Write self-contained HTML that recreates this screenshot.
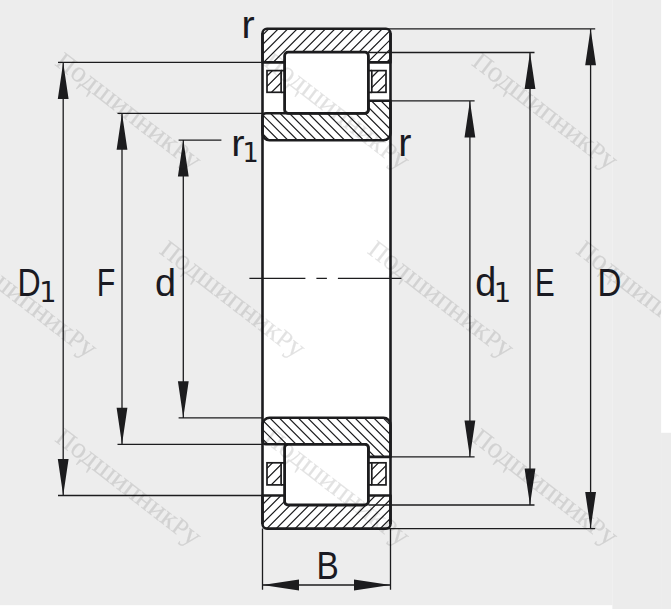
<!DOCTYPE html>
<html lang="ru">
<head>
<meta charset="utf-8">
<title>Подшипник</title>
<style>
html,body{margin:0;padding:0;background:#fff;}
body{width:671px;height:609px;overflow:hidden;font-family:"Liberation Sans",sans-serif;}
svg{display:block;}
</style>
</head>
<body>
<svg width="671" height="609" viewBox="0 0 671 609"><defs><clipPath id="cot"><path d="M262.5 62.4V33.3A4.5 4.5 0 0 1 267.0 28.8H386.0A4.5 4.5 0 0 1 390.5 33.3V62.4Z"/></clipPath><clipPath id="cit"><path d="M262.5 116.8A3.5 3.5 0 0 1 266.0 113.3H364.9A3.5 3.5 0 0 0 368.4 109.8V100.7H390.5V133.3A7 7 0 0 1 383.5 140.3H269.5A7 7 0 0 1 262.5 133.3Z"/></clipPath><clipPath id="cob"><path d="M262.5 495.5V524.1A4.5 4.5 0 0 0 267.0 528.6H386.0A4.5 4.5 0 0 0 390.5 524.1V495.5Z"/></clipPath><clipPath id="cib"><path d="M262.5 440.8A3.5 3.5 0 0 0 266.0 444.3H364.9A3.5 3.5 0 0 1 368.4 447.8V456.9H390.5V424.8A7 7 0 0 0 383.5 417.8H269.5A7 7 0 0 0 262.5 424.8Z"/></clipPath><clipPath id="cg267_70"><rect x="267.0" y="70.6" width="14.100000000000023" height="21.700000000000003"/></clipPath><clipPath id="cg371_70"><rect x="371.8" y="70.6" width="14.199999999999989" height="21.700000000000003"/></clipPath><clipPath id="cg267_462"><rect x="267.0" y="462.8" width="14.100000000000023" height="22.099999999999966"/></clipPath><clipPath id="cg371_462"><rect x="371.8" y="462.8" width="14.199999999999989" height="22.099999999999966"/></clipPath><clipPath id="cwm"><path d="M0 0H661.1V432.8H671V609H612.4V605.2H0Z"/></clipPath></defs>
<rect x="0" y="0" width="612.4" height="605.2" fill="#ededed"/>
<rect x="612.4" y="0" width="48.7" height="609" fill="#ececec"/>
<rect x="661.1" y="432.8" width="9.9" height="176.2" fill="#ececec"/>
<rect x="262.5" y="28.8" width="128.0" height="499.8" rx="4.5" fill="#fff"/>
<g clip-path="url(#cot)"><path d="M233.30 64.40L270.90 26.80M242.75 64.40L280.35 26.80M252.20 64.40L289.80 26.80M261.65 64.40L299.25 26.80M271.10 64.40L308.70 26.80M280.55 64.40L318.15 26.80M290.00 64.40L327.60 26.80M299.45 64.40L337.05 26.80M308.90 64.40L346.50 26.80M318.35 64.40L355.95 26.80M327.80 64.40L365.40 26.80M337.25 64.40L374.85 26.80M346.70 64.40L384.30 26.80M356.15 64.40L393.75 26.80M365.60 64.40L403.20 26.80M375.05 64.40L412.65 26.80M384.50 64.40L422.10 26.80" stroke="#1c1c1e" stroke-width="1.2" fill="none"/></g>
<path d="M262.5 62.4V33.3A4.5 4.5 0 0 1 267.0 28.8H386.0A4.5 4.5 0 0 1 390.5 33.3V62.4Z" fill="none" stroke="#1c1c1e" stroke-width="2.6" stroke-linejoin="round"/>
<g clip-path="url(#cit)"><path d="M227.55 98.70L271.15 142.30M237.00 98.70L280.60 142.30M246.45 98.70L290.05 142.30M255.90 98.70L299.50 142.30M265.35 98.70L308.95 142.30M274.80 98.70L318.40 142.30M284.25 98.70L327.85 142.30M293.70 98.70L337.30 142.30M303.15 98.70L346.75 142.30M312.60 98.70L356.20 142.30M322.05 98.70L365.65 142.30M331.50 98.70L375.10 142.30M340.95 98.70L384.55 142.30M350.40 98.70L394.00 142.30M359.85 98.70L403.45 142.30M369.30 98.70L412.90 142.30M378.75 98.70L422.35 142.30M388.20 98.70L431.80 142.30" stroke="#1c1c1e" stroke-width="1.2" fill="none"/></g>
<path d="M262.5 116.8A3.5 3.5 0 0 1 266.0 113.3H364.9A3.5 3.5 0 0 0 368.4 109.8V100.7H390.5V133.3A7 7 0 0 1 383.5 140.3H269.5A7 7 0 0 1 262.5 133.3Z" fill="none" stroke="#1c1c1e" stroke-width="2.6" stroke-linejoin="round"/>
<g clip-path="url(#cob)"><path d="M236.45 530.60L273.55 493.50M245.90 530.60L283.00 493.50M255.35 530.60L292.45 493.50M264.80 530.60L301.90 493.50M274.25 530.60L311.35 493.50M283.70 530.60L320.80 493.50M293.15 530.60L330.25 493.50M302.60 530.60L339.70 493.50M312.05 530.60L349.15 493.50M321.50 530.60L358.60 493.50M330.95 530.60L368.05 493.50M340.40 530.60L377.50 493.50M349.85 530.60L386.95 493.50M359.30 530.60L396.40 493.50M368.75 530.60L405.85 493.50M378.20 530.60L415.30 493.50M387.65 530.60L424.75 493.50" stroke="#1c1c1e" stroke-width="1.2" fill="none"/></g>
<path d="M262.5 495.5V524.1A4.5 4.5 0 0 0 267.0 528.6H386.0A4.5 4.5 0 0 0 390.5 524.1V495.5Z" fill="none" stroke="#1c1c1e" stroke-width="2.6" stroke-linejoin="round"/>
<g clip-path="url(#cib)"><path d="M229.90 415.80L273.00 458.90M239.35 415.80L282.45 458.90M248.80 415.80L291.90 458.90M258.25 415.80L301.35 458.90M267.70 415.80L310.80 458.90M277.15 415.80L320.25 458.90M286.60 415.80L329.70 458.90M296.05 415.80L339.15 458.90M305.50 415.80L348.60 458.90M314.95 415.80L358.05 458.90M324.40 415.80L367.50 458.90M333.85 415.80L376.95 458.90M343.30 415.80L386.40 458.90M352.75 415.80L395.85 458.90M362.20 415.80L405.30 458.90M371.65 415.80L414.75 458.90M381.10 415.80L424.20 458.90" stroke="#1c1c1e" stroke-width="1.2" fill="none"/></g>
<path d="M262.5 440.8A3.5 3.5 0 0 0 266.0 444.3H364.9A3.5 3.5 0 0 1 368.4 447.8V456.9H390.5V424.8A7 7 0 0 0 383.5 417.8H269.5A7 7 0 0 0 262.5 424.8Z" fill="none" stroke="#1c1c1e" stroke-width="2.6" stroke-linejoin="round"/>
<path d="M262.5 33.3V524.1M390.5 33.3V524.1" stroke="#1c1c1e" stroke-width="2.6" fill="none"/>
<rect x="284.6" y="52.2" width="83.79999999999995" height="61.099999999999994" rx="3.5" fill="#fff" stroke="#1c1c1e" stroke-width="2.8000000000000003"/>
<rect x="284.6" y="444.3" width="83.79999999999995" height="60.69999999999999" rx="3.5" fill="#fff" stroke="#1c1c1e" stroke-width="2.8000000000000003"/>
<g clip-path="url(#cg267_70)"><path d="M248.70 94.30L274.40 68.60M259.10 94.30L284.80 68.60M269.50 94.30L295.20 68.60" stroke="#1c1c1e" stroke-width="1.25" fill="none"/></g>
<rect x="267.0" y="70.6" width="14.100000000000023" height="21.700000000000003" fill="none" stroke="#1c1c1e" stroke-width="1.7"/>
<path d="M281.1 70.6H284.6M281.1 92.3H284.6" stroke="#1c1c1e" stroke-width="1.7"/>
<g clip-path="url(#cg371_70)"><path d="M354.70 94.30L380.40 68.60M365.10 94.30L390.80 68.60M375.50 94.30L401.20 68.60" stroke="#1c1c1e" stroke-width="1.25" fill="none"/></g>
<rect x="371.8" y="70.6" width="14.199999999999989" height="21.700000000000003" fill="none" stroke="#1c1c1e" stroke-width="1.7"/>
<path d="M371.8 70.6H368.4M371.8 92.3H368.4" stroke="#1c1c1e" stroke-width="1.7"/>
<g clip-path="url(#cg267_462)"><path d="M248.40 486.90L274.50 460.80M258.80 486.90L284.90 460.80M269.20 486.90L295.30 460.80" stroke="#1c1c1e" stroke-width="1.25" fill="none"/></g>
<rect x="267.0" y="462.8" width="14.100000000000023" height="22.099999999999966" fill="none" stroke="#1c1c1e" stroke-width="1.7"/>
<path d="M281.1 462.8H284.6M281.1 484.9H284.6" stroke="#1c1c1e" stroke-width="1.7"/>
<g clip-path="url(#cg371_462)"><path d="M354.40 486.90L380.50 460.80M364.80 486.90L390.90 460.80M375.20 486.90L401.30 460.80" stroke="#1c1c1e" stroke-width="1.25" fill="none"/></g>
<rect x="371.8" y="462.8" width="14.199999999999989" height="22.099999999999966" fill="none" stroke="#1c1c1e" stroke-width="1.7"/>
<path d="M371.8 462.8H368.4M371.8 484.9H368.4" stroke="#1c1c1e" stroke-width="1.7"/>
<path d="M249.4 278.4H305.4M316.4 278.4H326.9M337.9 278.4H401.4" stroke="#1c1c1e" stroke-width="1.3" fill="none"/>
<path d="M63.2 62.4V495.5M58 62.4H262.5M58 495.5H262.5" stroke="#1c1c1e" stroke-width="1.3" fill="none"/><path d="M63.2 62.4L57.800000000000004 98.9H68.60000000000001ZM63.2 495.5L57.800000000000004 459.0H68.60000000000001Z" fill="#1c1c1e"/>
<path d="M122.0 113.3V444.3M117.5 113.3H262.5M117.5 444.3H262.5" stroke="#1c1c1e" stroke-width="1.3" fill="none"/><path d="M122.0 113.3L116.6 149.8H127.4ZM122.0 444.3L116.6 407.8H127.4Z" fill="#1c1c1e"/>
<path d="M183.3 140.1V417.8M178.6 140.1H221.4M178.6 417.8H262.5" stroke="#1c1c1e" stroke-width="1.3" fill="none"/><path d="M183.3 140.1L177.9 176.6H188.70000000000002ZM183.3 417.8L177.9 381.3H188.70000000000002Z" fill="#1c1c1e"/>
<path d="M469.9 100.9V456.9M390.5 100.9H474.6M390.5 456.9H474.6" stroke="#1c1c1e" stroke-width="1.3" fill="none"/><path d="M469.9 100.9L464.5 137.4H475.29999999999995ZM469.9 456.9L464.5 420.4H475.29999999999995Z" fill="#1c1c1e"/>
<path d="M530.0 52.5V505.0M368.4 52.5H534.5M368.4 505.0H534.5" stroke="#1c1c1e" stroke-width="1.3" fill="none"/><path d="M530.0 52.5L524.6 89.0H535.4ZM530.0 505.0L524.6 468.5H535.4Z" fill="#1c1c1e"/>
<path d="M590.6 28.8V528.6M386.0 28.8H595.2M386.0 528.6H595.2" stroke="#1c1c1e" stroke-width="1.3" fill="none"/><path d="M590.6 28.8L585.2 65.3H596.0ZM590.6 528.6L585.2 492.1H596.0Z" fill="#1c1c1e"/>
<path d="M262.5 528.6V589.8M390.5 528.6V589.8M262.5 585.0H390.5" stroke="#1c1c1e" stroke-width="1.3" fill="none"/>
<path d="M262.5 585.0L299.0 579.6V590.4ZM390.5 585.0L354.0 579.6V590.4Z" fill="#1c1c1e"/>
<text transform="translate(17.43 295.80) scale(0.817 1)" font-family="'Liberation Sans', sans-serif" font-size="39.28" fill="#1a1a22">D</text>
<text transform="translate(39.22 301.90) scale(0.971 1)" font-family="'DejaVu Sans', sans-serif" font-size="27.95" fill="#1a1a22">1</text>
<text transform="translate(96.87 295.80) scale(0.774 1)" font-family="'Liberation Sans', sans-serif" font-size="39.28" fill="#1a1a22">F</text>
<text transform="translate(154.99 296.00) scale(0.951 1)" font-family="'Liberation Sans', sans-serif" font-size="39.73" fill="#1a1a22">d</text>
<text transform="translate(475.29 296.00) scale(0.941 1)" font-family="'Liberation Sans', sans-serif" font-size="40.14" fill="#1a1a22">d</text>
<text transform="translate(493.79 302.00) scale(0.999 1)" font-family="'DejaVu Sans', sans-serif" font-size="27.40" fill="#1a1a22">1</text>
<text transform="translate(534.94 295.80) scale(0.752 1)" font-family="'Liberation Sans', sans-serif" font-size="39.28" fill="#1a1a22">E</text>
<text transform="translate(597.55 295.80) scale(0.843 1)" font-family="'Liberation Sans', sans-serif" font-size="39.28" fill="#1a1a22">D</text>
<text transform="translate(241.53 37.70) scale(1.043 1)" font-family="'Liberation Sans', sans-serif" font-size="37.96" fill="#1a1a22">r</text>
<text transform="translate(231.20 155.50) scale(1.069 1)" font-family="'Liberation Sans', sans-serif" font-size="37.41" fill="#1a1a22">r</text>
<text transform="translate(242.49 161.70) scale(0.946 1)" font-family="'DejaVu Sans', sans-serif" font-size="26.99" fill="#1a1a22">1</text>
<text transform="translate(398.33 155.60) scale(1.023 1)" font-family="'Liberation Sans', sans-serif" font-size="38.70" fill="#1a1a22">r</text>
<text transform="translate(316.62 578.60) scale(0.881 1)" font-family="'Liberation Sans', sans-serif" font-size="37.97" fill="#1a1a22">B</text>
<g clip-path="url(#cwm)" font-family="'Liberation Serif', serif" font-size="25" letter-spacing="0" fill="#000" stroke="#000" stroke-width="0.2" opacity="0.115"><text transform="translate(54.1 64.5) rotate(37.6) scale(1.0 1)">П<tspan font-size="29.3">одшипник</tspan>Р<tspan font-size="29.3">у</tspan></text><text transform="translate(262.4 64.5) rotate(37.6) scale(1.0 1)">П<tspan font-size="29.3">одшипник</tspan>Р<tspan font-size="29.3">у</tspan></text><text transform="translate(470.7 64.5) rotate(37.6) scale(1.0 1)">П<tspan font-size="29.3">одшипник</tspan>Р<tspan font-size="29.3">у</tspan></text><text transform="translate(-50.1 252.4) rotate(37.6) scale(1.0 1)">П<tspan font-size="29.3">одшипник</tspan>Р<tspan font-size="29.3">у</tspan></text><text transform="translate(158.2 252.4) rotate(37.6) scale(1.0 1)">П<tspan font-size="29.3">одшипник</tspan>Р<tspan font-size="29.3">у</tspan></text><text transform="translate(366.6 252.4) rotate(37.6) scale(1.0 1)">П<tspan font-size="29.3">одшипник</tspan>Р<tspan font-size="29.3">у</tspan></text><text transform="translate(574.9 252.4) rotate(37.6) scale(1.0 1)">П<tspan font-size="29.3">одшипник</tspan>Р<tspan font-size="29.3">у</tspan></text><text transform="translate(54.1 440.4) rotate(37.6) scale(1.0 1)">П<tspan font-size="29.3">одшипник</tspan>Р<tspan font-size="29.3">у</tspan></text><text transform="translate(262.4 440.4) rotate(37.6) scale(1.0 1)">П<tspan font-size="29.3">одшипник</tspan>Р<tspan font-size="29.3">у</tspan></text><text transform="translate(470.7 440.4) rotate(37.6) scale(1.0 1)">П<tspan font-size="29.3">одшипник</tspan>Р<tspan font-size="29.3">у</tspan></text></g>
</svg>
</body>
</html>
